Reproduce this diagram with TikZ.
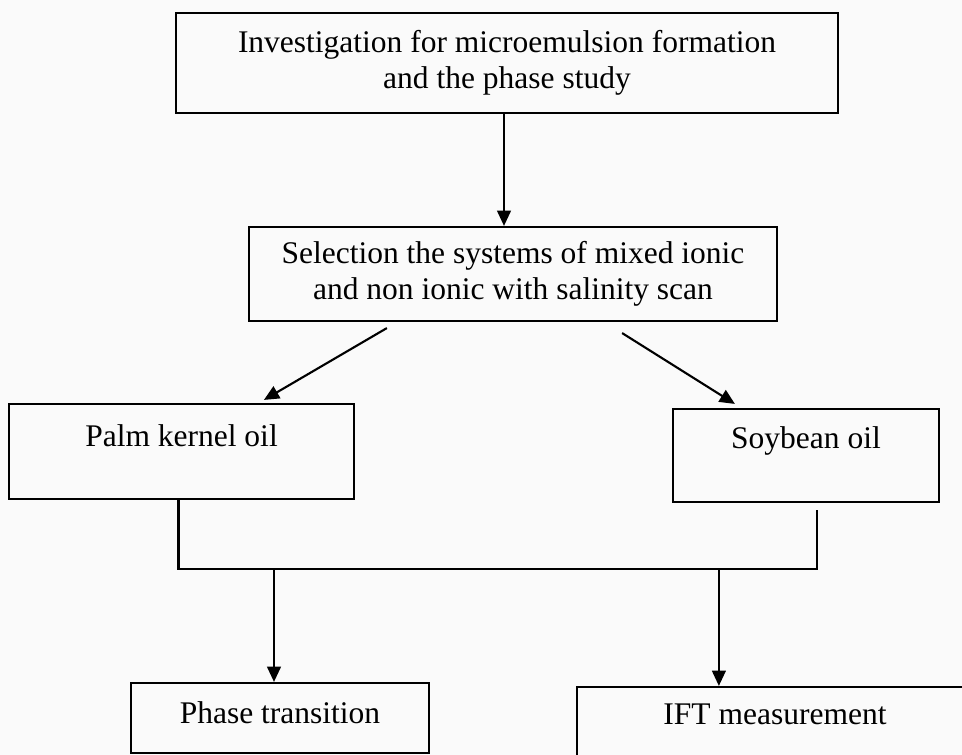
\documentclass[tikz,border=0pt]{standalone}
\usepackage{fontspec}
\setmainfont{Liberation Serif}
\usetikzlibrary{arrows.meta,calc}

\begin{document}
\begin{tikzpicture}[
    x=0.025cm, y=-0.025cm,
    >={Triangle[length=3.8mm,width=3.4mm]},
    line width=1.5pt,
    stage/.style={draw, inner sep=0pt, align=center,
      font=\fontsize{22.4}{26}\selectfont}
  ]
  % page and background
  \path[use as bounding box, fill=gray!4] (0,0) rectangle (962,755);
  \clip (0,0) rectangle (962,755);

  % boxes
  \node[stage, minimum width=16.55cm, minimum height=2.5cm] (invest) at (507,63)
    {Investigation for microemulsion formation\\and the phase study};
  \node[stage, minimum width=13.2cm, minimum height=2.35cm] (select) at (513,274)
    {Selection the systems of mixed ionic\\and non ionic with salinity scan};
  \node[stage, minimum width=8.625cm, minimum height=2.375cm,
    text height=0.55cm, text depth=0.8cm] (palm) at (181.5,451.5) {Palm kernel oil};
  \node[stage, minimum width=6.65cm, minimum height=2.325cm,
    text height=0.55cm, text depth=0.9cm] (soy) at (806,455.5) {Soybean oil};
  \node[stage, minimum width=7.45cm, minimum height=1.75cm,
    text height=0.55cm, text depth=0.275cm] (phase) at (280,718) {Phase transition};
  \node[stage, minimum width=9.9cm, minimum height=1.85cm,
    text height=0.55cm, text depth=0.525cm] (ift) at (775,724) {IFT measurement};

  % first step down
  \coordinate (a0) at ($(invest.south)+(-3,0)$);
  \draw[->] (a0) -- (a0 |- select.north);

  % split to the two oils
  \coordinate (l0) at ($(select.south west)+(139,6)$);
  \coordinate (l1) at ($(palm.north west)+(256,-3)$);
  \coordinate (r0) at ($(select.south east)+(-156,11)$);
  \coordinate (r1) at ($(soy.north west)+(63,-4)$);
  \draw[->] (l0) -- (l1);
  \draw[->] (r0) -- (r1);

  % joining line
  \coordinate (j1) at ($(palm.south)+(-3,0)$);
  \coordinate (j2) at ($(soy.south)+(11,7)$);
  \draw (j1) -- ($(j1)+(0,69)$) coordinate (h1) -| (j2);

  % down to the measurements
  \coordinate (p0) at ($(phase.north)+(-6,0)$);
  \coordinate (i0) at ($(ift.north west)+(143,0)$);
  \draw[->] (p0 |- h1) -- (p0);
  \draw[->] (i0 |- h1) -- (i0);
\end{tikzpicture}
\end{document}
